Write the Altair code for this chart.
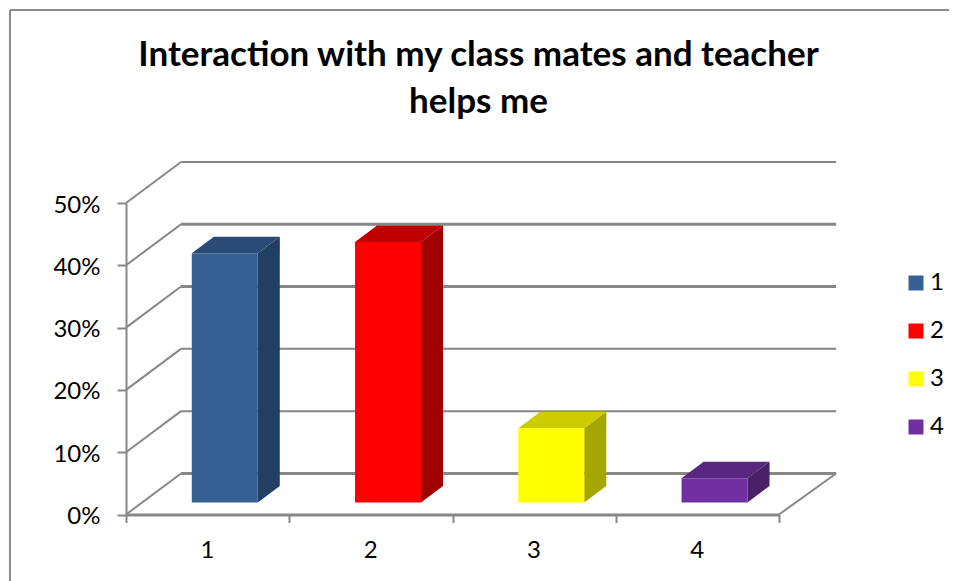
import altair as alt
import pandas as pd

categories = ["1", "2", "3", "4"]
values = [0.40, 0.418, 0.119, 0.039]
front_colors = ["#376092", "#FF0000", "#FFFF00", "#7030A0"]
side_colors = ["#213F60", "#A00000", "#A6A600", "#4A2068"]
top_colors = ["#2B4A75", "#C00000", "#CCCC00", "#592680"]
thin_levels = [0.1, 0.2, 0.5]
thick_levels = [0.0, 0.3, 0.4]
title_lines = ["Interaction with my class mates and teacher", "helps me"]

FONT = "Lato"
GRAY = "#878787"
WALL_DX, WALL_DY, WALL_DX_RIGHT = 0.337, 0.0659, 0.35
BAR_LEFT, BAR_W, BAR_BASE = 0.403, 0.404, 0.0193
BAR_DX, BAR_DY = 0.135, 0.0265

xs = alt.Scale(domain=[0, 4], range=[118, 771], nice=False, zero=False)
ys = alt.Scale(domain=[0, 0.5], range=[506.5, 195], nice=False, zero=False)
x_axis = alt.Axis(
    values=[0, 1, 2, 3, 4], labelExpr="datum.value < 4 ? format(datum.value + 1, 'd') : ''",
    labelOffset=81, labelPadding=16, tickSize=8, tickWidth=2, domainWidth=3, tickColor=GRAY,
    domainColor=GRAY, labelFont=FONT, labelFontSize=24, labelColor="#000000", title=None,
    grid=False, offset=-66.5, labelFlush=False, labelOverlap=False)
y_axis = alt.Axis(
    values=[0, 0.1, 0.2, 0.3, 0.4, 0.5], format=".0%", tickSize=9, tickWidth=2, domainWidth=2,
    tickColor=GRAY, domainColor=GRAY, labelFont=FONT, labelFontSize=24, labelColor="#000000",
    labelPadding=17, labelOffset=2, title=None, grid=False, offset=-118)
X = lambda f="x": alt.X(f"{f}:Q", scale=xs, axis=x_axis)
Y = lambda f="y": alt.Y(f"{f}:Q", scale=ys, axis=y_axis)

front, side, top = [], [], []
for i, (c, v) in enumerate(zip(categories, values)):
    x0 = i + BAR_LEFT
    x1 = x0 + BAR_W
    y0 = BAR_BASE
    y1 = BAR_BASE + v
    front.append(dict(cat=c, x=x0, x2=x1, y=y0, y2=y1))
    side.append(dict(cat=c, col=side_colors[i], x=x1, y=y1, y2=y0))
    side.append(dict(cat=c, col=side_colors[i], x=x1 + BAR_DX, y=y1 + BAR_DY, y2=y0 + BAR_DY))
    top.append(dict(cat=c, col=top_colors[i], y=y1, x=x0, x2=x1))
    top.append(dict(cat=c, col=top_colors[i], y=y1 + BAR_DY, x=x0 + BAR_DX, x2=x1 + BAR_DX))


def wall(levels, width):
    df = pd.DataFrame({"v": levels})
    df["xa"] = 0.0
    df["xb"] = WALL_DX
    df["xc"] = 4 + WALL_DX_RIGHT
    df["yb"] = df["v"] + WALL_DY
    diag = alt.Chart(df).mark_rule(color=GRAY, strokeWidth=2).encode(
        x=X("xa"), x2="xb:Q", y=Y("v"), y2="yb:Q")
    back = alt.Chart(df).mark_rule(color=GRAY, strokeWidth=width).encode(
        x=X("xb"), x2="xc:Q", y=Y("yb"))
    return diag + back


floor_edge = alt.Chart(pd.DataFrame([dict(xa=4.0, xb=4 + WALL_DX_RIGHT, ya=0.0, yb=WALL_DY)])).mark_rule(
    color=GRAY, strokeWidth=2).encode(x=X("xa"), x2="xb:Q", y=Y("ya"), y2="yb:Q")

frame_top = alt.Chart().mark_rule(color="#8C8C8C", strokeWidth=2).encode(
    x=alt.value(2), x2=alt.value(941), y=alt.value(2))
frame_left = alt.Chart().mark_rule(color="#8C8C8C", strokeWidth=2).encode(
    x=alt.value(2), y=alt.value(2), y2=alt.value(573))

front_layer = alt.Chart(pd.DataFrame(front)).mark_rect().encode(
    x=X(), x2="x2:Q", y=Y(), y2="y2:Q",
    color=alt.Color("cat:N", scale=alt.Scale(domain=categories, range=front_colors),
                    legend=alt.Legend(title=None, orient="none", legendX=896, legendY=263,
                                      symbolType="square", symbolSize=225, symbolStrokeWidth=0,
                                      labelFont=FONT, labelFontSize=24, labelColor="#000000",
                                      rowPadding=24, labelOffset=2)),
)
side_layer = alt.Chart(pd.DataFrame(side)).mark_area().encode(
    x=X(), y=Y(), y2="y2:Q", detail="cat:N", fill=alt.Fill("col:N", scale=None))
top_layer = alt.Chart(pd.DataFrame(top)).mark_area(orient="horizontal").encode(
    y=Y(), x=X(), x2="x2:Q", detail="cat:N", fill=alt.Fill("col:N", scale=None))

chart = alt.layer(
    wall(thin_levels, 2), wall(thick_levels, 3), floor_edge,
    side_layer, top_layer, front_layer,
    frame_top, frame_left,
).resolve_scale(color="independent", fill="independent").properties(
    width=941, height=573, padding=0,
    autosize=alt.AutoSizeParams(type="none"),
    title=alt.TitleParams(title_lines, font=FONT, fontSize=35, fontWeight="bold", color="#000000",
                          anchor="middle", frame="group", dx=0, offset=-112, lineHeight=47),
).configure_view(stroke=None)

chart.save("out.html", embed_options={"renderer": "svg", "actions": False})
